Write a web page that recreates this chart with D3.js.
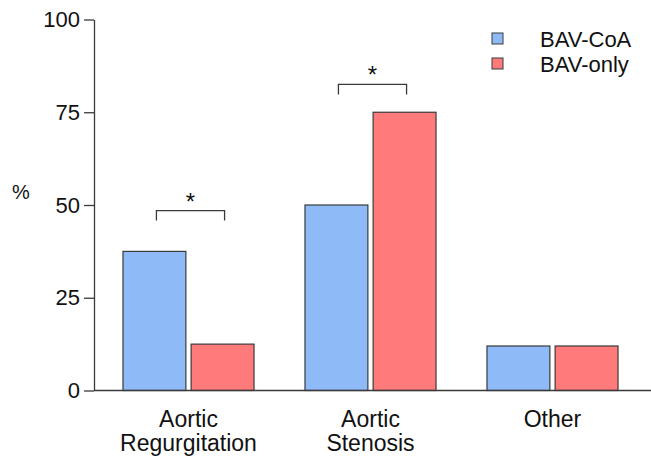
<!DOCTYPE html>
<html>
<head>
<meta charset="utf-8">
<script src="https://cdn.jsdelivr.net/npm/d3@7"></script>
<style>
  html, body { margin: 0; padding: 0; background: #fff; }
  svg { display: block; font-family: "Liberation Sans", Arial, sans-serif; }
</style>
</head>
<body>
<svg id="chart" width="651" height="456"></svg>
<script>
const categories = ["Aortic Regurgitation", "Aortic Stenosis", "Other"];
const categoryLines = [["Aortic", "Regurgitation"], ["Aortic", "Stenosis"], ["Other"]];
const seriesNames = ["BAV-CoA", "BAV-only"];
const bavCoA = [37.5, 50, 12];
const bavOnly = [12.5, 75, 12];
const yTicks = [0, 25, 50, 75, 100];
const seriesColors = ["#8ebbf7", "#ff7b7b"];
const sigCategories = ["Aortic Regurgitation", "Aortic Stenosis"];
const sigLevels = [48.5, 82.5];
const sigLabels = ["*", "*"];

const svg = d3.select("#chart");
const W = 651, H = 456;
const axisX = 94, axisBottomY = 390.5, axisTopY = 19.5;

const y = d3.scaleLinear().domain([0, 100]).range([axisBottomY, axisTopY]);
const x = d3.scaleBand().domain(categories).range([97.5, 643.5]).paddingInner(0.28).paddingOuter(0.14);
const xs = d3.scaleBand().domain(seriesNames).range([0, x.bandwidth()]).paddingInner(0.077);

const rows = [];
categories.forEach((c, i) => {
  rows.push({cat: c, s: seriesNames[0], v: bavCoA[i], color: seriesColors[0]});
  rows.push({cat: c, s: seriesNames[1], v: bavOnly[i], color: seriesColors[1]});
});

// bars
svg.append("g").selectAll("rect").data(rows).join("rect")
  .attr("x", d => x(d.cat) + xs(d.s))
  .attr("y", d => y(d.v))
  .attr("width", xs.bandwidth())
  .attr("height", d => y(0) - y(d.v))
  .attr("fill", d => d.color)
  .attr("stroke", "#3a3a3a")
  .attr("stroke-width", 1.2);

// x axis line
svg.append("line")
  .attr("x1", axisX).attr("x2", W)
  .attr("y1", axisBottomY).attr("y2", axisBottomY)
  .attr("stroke", "#3a3a3a").attr("stroke-width", 1.3);

// y axis
const yAxis = svg.append("g")
  .attr("transform", `translate(${axisX},0)`)
  .call(d3.axisLeft(y).tickValues(yTicks).tickSize(10).tickSizeOuter(0).tickPadding(4));
yAxis.select(".domain").attr("stroke", "#3a3a3a").attr("stroke-width", 1.3);
yAxis.selectAll(".tick line").attr("stroke", "#3a3a3a").attr("stroke-width", 1.3);
yAxis.selectAll(".tick text")
  .attr("font-size", 22).attr("fill", "#111")
  .attr("font-family", "Liberation Sans, Arial, sans-serif");

// y label
svg.append("text")
  .attr("x", 21).attr("y", 199)
  .attr("text-anchor", "middle")
  .attr("font-size", 20).attr("fill", "#111")
  .text("%");

// category labels
const catG = svg.append("g");
categories.forEach((c, i) => {
  const t = catG.append("text")
    .attr("text-anchor", "middle")
    .attr("font-size", 23)
    .attr("fill", "#111");
  categoryLines[i].forEach((ln, j) => {
    t.append("tspan")
      .attr("x", x(c) + x.bandwidth() / 2)
      .attr("y", 427 + j * 24)
      .text(ln);
  });
});

// significance brackets
sigCategories.forEach((c, i) => {
  const x1 = x(c) + xs(seriesNames[0]) + xs.bandwidth() / 2 + 2;
  const x2 = x(c) + xs(seriesNames[1]) + xs.bandwidth() / 2 + 2;
  const yy = y(sigLevels[i]);
  svg.append("path")
    .attr("d", `M${x1},${yy + 10}V${yy}H${x2}V${yy + 10}`)
    .attr("fill", "none")
    .attr("stroke", "#3a3a3a")
    .attr("stroke-width", 1.3);
  svg.append("text")
    .attr("x", (x1 + x2) / 2)
    .attr("y", yy - 1)
    .attr("text-anchor", "middle")
    .attr("font-size", 24)
    .attr("fill", "#111")
    .text(sigLabels[i]);
});

// legend
const leg = svg.append("g");
seriesNames.forEach((s, i) => {
  const cy = 39 + i * 25;
  leg.append("rect")
    .attr("x", 492).attr("y", cy - 6)
    .attr("width", 11).attr("height", 11)
    .attr("fill", seriesColors[i])
    .attr("stroke", "#3a3a3a").attr("stroke-width", 1);
  leg.append("text")
    .attr("x", 540).attr("y", cy + 8)
    .attr("font-size", 22)
    .attr("fill", "#111")
    .text(s);
});
</script>
</body>
</html>
